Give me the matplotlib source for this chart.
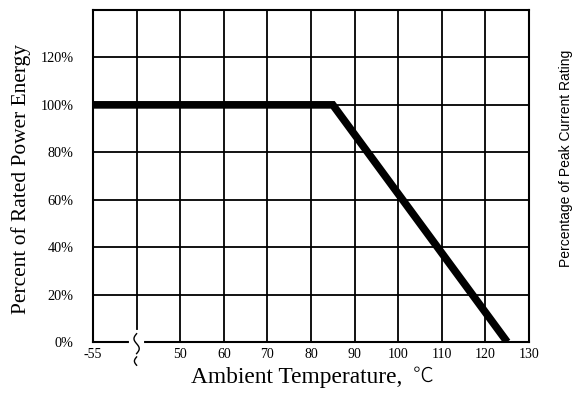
import numpy as np
import matplotlib
matplotlib.use("Agg")
import matplotlib.pyplot as plt
import matplotlib.transforms as mtransforms

# Derating curve data
temps = [-55, 85, 125]
power = [100, 100, 0]

x_ticks = [-55, 40, 50, 60, 70, 80, 90, 100, 110, 120, 130]
x_labels = ['-55', '', '50', '60', '70', '80', '90', '100', '110', '120', '130']
y_ticks = [0, 20, 40, 60, 80, 100, 120, 140]
y_labels = ['0%', '20%', '40%', '60%', '80%', '100%', '120%', '']

x_break = 40  # axis is compressed below this temperature


def fwd(t):
    t = np.asarray(t, dtype=float)
    return np.where(t < x_break, 30 + (t + 55) * 10 / 95, t)


def inv(u):
    u = np.asarray(u, dtype=float)
    return np.where(u < x_break, (u - 30) * 95 / 10 - 55, u)


serif = 'Liberation Serif'
plt.rcParams['font.family'] = serif

fig = plt.figure(figsize=(5.84, 3.95), dpi=100)
ax = fig.add_axes([93 / 584, 1 - 342 / 395, 436 / 584, 332 / 395])

ax.set_xscale('function', functions=(fwd, inv))
ax.set_xlim(-55, 130)
ax.set_ylim(0, 140)

ax.set_xticks(x_ticks)
ax.set_xticklabels(x_labels, fontsize=10)
ax.set_yticks(y_ticks)
ax.set_yticklabels(y_labels, fontsize=10.3)
ax.tick_params(length=0, pad=4)
ax.tick_params(axis='y', pad=14)
ax.xaxis.set_minor_locator(plt.NullLocator())

ax.grid(True, color='black', linewidth=1.3)
for s in ax.spines.values():
    s.set_linewidth(1.5)
ax.set_axisbelow(True)

ax.plot(temps, power, color='black', linewidth=5.5, solid_capstyle='butt',
        solid_joinstyle='miter', zorder=3)

# axis break squiggle
xb = float((fwd(x_break) - fwd(-55)) / (fwd(130) - fwd(-55)))
trans = mtransforms.blended_transform_factory(ax.transAxes, ax.transAxes)
ax.plot([xb - 0.013, xb + 0.013], [0, 0], color='white', linewidth=3,
        transform=trans, clip_on=False, zorder=4)
ax.plot([xb, xb], [0, 0.03], color='white', linewidth=3,
        transform=trans, clip_on=False, zorder=4)
yy = np.linspace(0.025, -0.035, 40)
xx = xb + 0.006 * np.sin((yy - 0.025) / 0.06 * 2 * np.pi)
ax.plot(xx, yy, color='black', linewidth=1, transform=trans, clip_on=False, zorder=5)
yy2 = np.linspace(-0.045, -0.07, 20)
xx2 = xb + 0.005 * np.sin((yy2 + 0.045) / 0.025 * np.pi)
ax.plot(xx2, yy2, color='black', linewidth=1, transform=trans, clip_on=False, zorder=5)

fig.text(297 / 584, 1 - 377 / 395, 'Ambient Temperature,', fontsize=16.8,
         ha='center', va='center')
fig.text(413 / 584, 1 - 376 / 395, '\u2103', fontsize=15, ha='left', va='center',
         family='Noto Sans CJK JP', fontweight='light')
fig.text(21 / 584, 1 - 179 / 395, 'Percent of Rated Power Energy', fontsize=15.4,
         rotation=90, ha='center', va='center')
fig.text(566 / 584, 1 - 158 / 395, 'Percentage of Peak Current Rating', fontsize=10,
         rotation=90, ha='center', va='center', family='Liberation Sans')

fig.savefig('out.png', dpi=100)
